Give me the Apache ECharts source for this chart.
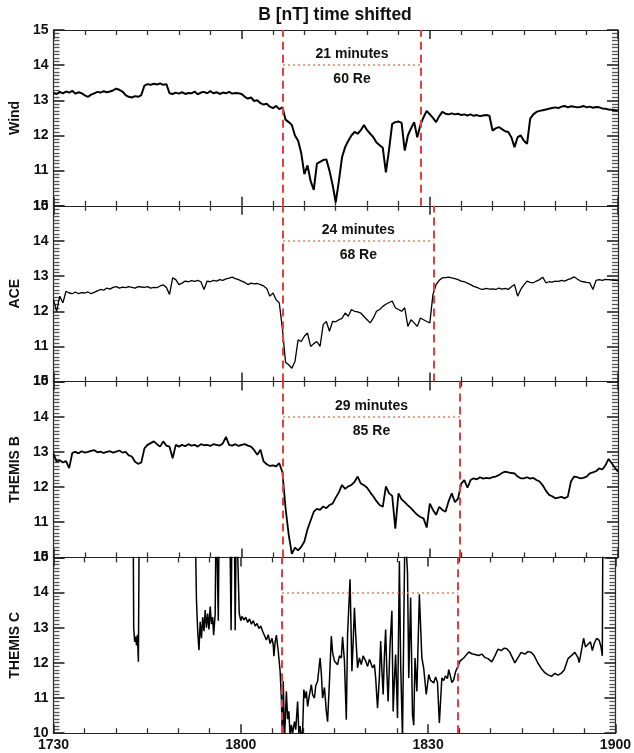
<!DOCTYPE html>
<html>
<head>
<meta charset="utf-8">
<title>B [nT] time shifted</title>
<script src="https://cdn.jsdelivr.net/npm/echarts@6/dist/echarts.min.js"></script>
<style>
  html, body { margin: 0; padding: 0; background: #fff; }
  #chart { width: 634px; height: 753px; }
</style>
</head>
<body>
<div id="chart"></div>
<script>
// time axis: minutes after 17:30, one sample every half minute for Wind / ACE / THEMIS B
var sampleStep = 0.5;

// B [nT], Wind
var windB = [
  13.21, 13.18, 13.24, 13.20, 13.25, 13.22, 13.27, 13.19, 13.23, 13.20,
  13.14, 13.10, 13.16, 13.20, 13.24, 13.22, 13.26, 13.23, 13.25, 13.28,
  13.33, 13.30, 13.25, 13.15, 13.10, 13.08, 13.12, 13.10, 13.15, 13.42,
  13.46, 13.44, 13.47, 13.45, 13.48, 13.44, 13.46, 13.20, 13.18, 13.22,
  13.19, 13.23, 13.18, 13.21, 13.20, 13.25, 13.17, 13.22, 13.24, 13.20,
  13.26, 13.20, 13.23, 13.18, 13.22, 13.20, 13.24, 13.19, 13.21, 13.20,
  13.18, 13.10, 13.05, 13.08, 12.98, 13.00, 12.92, 12.88, 12.90, 12.82,
  12.78, 12.84, 12.75, 12.80, 12.45, 12.38, 12.30, 12.00, 11.85, 11.50,
  10.90, 11.15, 10.70, 10.45, 11.20, 11.25, 11.30, 11.32, 11.00, 10.60,
  10.10, 10.70, 11.38, 11.67, 11.85, 12.00, 12.10, 12.05, 12.15, 12.30,
  12.15, 12.05, 11.95, 11.80, 11.72, 11.65, 10.95, 11.60, 12.33, 12.38,
  12.40, 12.36, 11.57, 12.00, 12.20, 12.38, 11.95, 12.30, 12.52, 12.70,
  12.60, 12.50, 12.38, 12.55, 12.67, 12.62, 12.60, 12.63, 12.60, 12.62,
  12.58, 12.60, 12.57, 12.60, 12.56, 12.58, 12.55, 12.57, 12.58, 12.56,
  12.14, 12.20, 12.24, 12.18, 12.12, 12.10, 11.95, 11.67, 11.95, 12.00,
  11.85, 11.76, 12.48, 12.60, 12.67, 12.70, 12.72, 12.74, 12.76, 12.78,
  12.80, 12.78, 12.82, 12.84, 12.80, 12.83, 12.82, 12.80, 12.81, 12.84,
  12.80, 12.82, 12.79, 12.81, 12.80, 12.77, 12.76, 12.74, 12.73, 12.72,
  12.71
];

// B [nT], ACE
var aceB = [
  12.33, 12.00, 12.43, 12.24, 12.57, 12.52, 12.50, 12.55, 12.50, 12.53,
  12.52, 12.55, 12.50, 12.54, 12.58, 12.62, 12.60, 12.66, 12.63, 12.68,
  12.70, 12.66, 12.69, 12.67, 12.70, 12.68, 12.66, 12.70, 12.69, 12.68,
  12.70, 12.66, 12.68, 12.67, 12.72, 12.75, 12.68, 12.48, 12.95, 12.90,
  12.76, 12.80, 12.86, 12.84, 12.87, 12.85, 12.88, 12.84, 12.62, 12.86,
  12.84, 12.88, 12.86, 12.90, 12.88, 12.92, 12.94, 12.97, 12.93, 12.90,
  12.86, 12.82, 12.76, 12.80, 12.78, 12.79, 12.76, 12.72, 12.65, 12.43,
  12.52, 12.33, 12.24, 11.50, 10.55, 10.48, 10.38, 10.57, 11.19, 11.14,
  11.29, 11.38, 11.00, 11.08, 11.14, 11.00, 11.62, 11.71, 11.43, 11.71,
  11.70, 11.76, 11.80, 11.95, 11.86, 12.05, 12.00, 11.98, 11.95, 11.85,
  11.76, 11.67, 11.81, 12.00, 12.05, 12.14, 12.20, 12.25, 12.29, 12.10,
  12.05, 12.00, 12.10, 11.57, 11.76, 11.67, 11.57, 11.81, 11.76, 11.71,
  11.67, 12.48, 12.76, 12.88, 12.95, 12.96, 12.97, 12.95, 12.93, 12.90,
  12.86, 12.84, 12.80, 12.76, 12.71, 12.68, 12.64, 12.62, 12.65, 12.63,
  12.64, 12.62, 12.66, 12.63, 12.65, 12.62, 12.70, 12.76, 12.43, 12.62,
  12.75, 12.86, 12.82, 12.81, 12.86, 12.90, 12.97, 12.81, 12.84, 12.83,
  12.86, 12.85, 12.88, 12.86, 12.90, 12.93, 12.98, 12.92, 12.86, 12.84,
  12.82, 12.81, 12.62, 12.88, 12.90, 12.88, 12.91, 12.90, 12.89, 12.88,
  12.87
];

// B [nT], THEMIS B
var themisBB = [
  12.95, 12.72, 12.76, 12.70, 12.74, 12.54, 12.97, 13.00, 12.96, 13.02,
  12.98, 13.00, 13.03, 13.05, 12.99, 13.01, 12.97, 13.00, 13.02, 12.98,
  13.01, 13.04, 12.98, 13.00, 12.90, 12.87, 12.72, 12.66, 12.70, 13.10,
  13.20, 13.25, 13.30, 13.22, 13.15, 13.30, 13.18, 13.15, 12.82, 13.20,
  13.15, 13.20, 13.16, 13.22, 13.18, 13.20, 13.15, 13.22, 13.19, 13.20,
  13.17, 13.22, 13.20, 13.18, 13.24, 13.43, 13.20, 13.18, 13.22, 13.17,
  13.20, 13.22, 13.18, 13.15, 13.05, 12.92, 13.06, 12.73, 12.65, 12.60,
  12.62, 12.59, 12.68, 12.42, 11.40, 10.65, 10.10, 10.28, 10.20, 10.30,
  10.45, 10.80, 11.05, 11.30, 11.38, 11.35, 11.45, 11.40, 11.49, 11.53,
  11.70, 11.85, 12.06, 11.95, 12.02, 12.06, 12.15, 12.30, 12.10, 12.05,
  11.98, 11.85, 11.73, 11.60, 11.49, 11.44, 12.02, 11.82, 11.75, 10.82,
  11.82, 11.65, 11.57, 11.48, 11.40, 11.30, 11.21, 11.15, 11.11, 10.85,
  11.53, 11.35, 11.21, 11.44, 11.35, 11.30, 11.60, 11.82, 11.57, 11.67,
  12.10, 12.20, 11.98, 12.20, 12.25, 12.22, 12.28, 12.24, 12.26, 12.25,
  12.28, 12.30, 12.34, 12.40, 12.44, 12.42, 12.40, 12.39, 12.30, 12.25,
  12.25, 12.28, 12.24, 12.26, 12.20, 12.16, 12.05, 11.90, 11.78, 11.74,
  11.68, 11.70, 11.72, 11.68, 11.73, 12.16, 12.30, 12.28, 12.25, 12.26,
  12.30, 12.39, 12.42, 12.45, 12.53, 12.50, 12.62, 12.80, 12.68, 12.55,
  12.44
];

// THEMIS C: [minutes after 17:30, B nT]; values above 15 are off scale
var themisC = [
  [0, 16.5], [12.75, 16.5], [12.85, 13.0], [13.0, 12.6], [13.15, 12.75], [13.3, 12.5], [13.45, 12.8], [13.6, 12.03], [13.75, 16.5],
  [22.65, 16.5], [22.9, 13.79], [23.1, 12.9], [23.3, 12.36], [23.5, 13.17], [23.7, 12.7], [23.9, 13.3], [24.1, 12.9], [24.3, 13.5],
  [24.5, 13.0], [24.7, 13.4], [24.9, 12.95], [25.1, 13.6], [25.3, 13.1], [25.5, 13.3], [25.65, 12.79], [25.9, 13.4], [26.05, 16.5],
  [26.25, 16.5], [26.4, 13.2], [26.55, 16.5],
  [28.2, 16.5], [28.45, 12.93], [28.6, 16.5], [28.95, 16.5], [29.1, 12.93], [29.3, 16.5], [29.5, 16.5], [29.75, 13.41],
  [30.0, 13.2], [30.2, 13.32], [30.5, 13.22], [30.8, 13.3], [31.1, 13.15], [31.4, 13.25], [31.7, 13.1], [32.0, 13.2], [32.3, 13.05],
  [32.6, 13.12], [32.9, 12.98], [33.2, 13.05], [33.5, 12.9], [33.8, 12.95], [34.1, 12.65], [34.4, 12.8], [34.7, 12.55], [35.0, 12.7],
  [35.2, 12.5], [35.3, 12.19], [35.5, 12.6], [35.7, 12.79], [36.0, 12.33], [36.3, 11.76],
  [36.5, 11.0], [36.65, 9.85], [36.8, 11.48], [37.0, 9.8], [37.3, 11.19], [37.5, 10.4], [37.7, 10.62], [37.9, 9.9], [38.1, 10.24],
  [38.3, 10.0], [38.6, 10.33], [38.8, 10.1], [39.1, 10.9], [39.3, 10.0], [39.5, 10.2], [39.7, 9.9], [39.9, 10.05],
  [40.1, 11.24], [40.3, 11.0], [40.5, 11.19], [40.7, 10.76], [41.0, 11.1], [41.3, 11.38], [41.5, 11.1], [41.8, 11.0], [42.0, 11.35],
  [42.3, 11.48], [42.7, 12.14], [42.9, 11.7], [43.1, 11.0], [43.4, 11.3], [43.7, 10.62], [43.9, 10.33], [44.2, 11.48], [44.5, 12.76],
  [44.7, 12.3], [45.0, 12.05], [45.3, 12.09], [45.5, 11.95], [45.8, 12.2], [46.1, 12.14], [46.3, 12.74], [46.6, 12.05], [46.9, 10.38],
  [47.1, 12.81], [47.5, 14.38], [47.8, 11.76], [48.0, 12.6], [48.2, 13.57], [48.4, 12.81], [48.7, 11.86], [49.0, 12.14], [49.3, 11.95],
  [49.6, 12.2], [50.0, 12.05], [50.3, 11.9], [50.6, 12.1], [51.1, 11.86], [51.4, 11.95], [51.6, 11.57], [51.9, 10.71], [52.2, 11.6],
  [52.4, 12.62], [52.6, 11.8], [52.8, 11.1], [53.0, 12.2], [53.2, 12.95], [53.4, 11.7], [53.6, 10.9], [53.9, 12.5], [54.2, 13.48],
  [54.4, 10.62], [54.6, 11.5], [54.8, 12.24], [55.1, 10.43], [55.4, 14.9], [55.6, 12.0], [55.9, 9.85], [56.1, 13.0], [56.3, 16.0],
  [56.5, 15.2], [56.7, 14.57], [56.9, 11.57], [57.2, 13.86], [57.5, 10.52], [57.7, 10.23], [57.9, 12.14], [58.2, 11.19], [58.6, 13.95],
  [59.0, 12.14], [59.3, 11.84], [59.7, 11.1], [60.1, 11.67], [60.4, 11.5], [60.9, 11.43], [61.2, 11.6], [61.5, 11.45], [61.8, 10.29],
  [62.2, 11.57], [62.5, 11.5], [62.8, 11.63], [63.1, 11.55], [63.3, 11.81], [63.6, 11.6], [63.8, 11.44], [64.1, 11.52], [64.4, 11.75],
  [64.8, 11.91], [65.1, 12.05], [65.4, 12.0], [65.7, 12.14], [66.0, 12.2], [66.5, 12.31], [67.0, 12.26], [67.5, 12.24], [68.1, 12.21],
  [68.6, 12.25], [69.1, 12.15], [69.6, 12.12], [70.2, 12.03], [70.7, 12.2], [71.2, 12.39], [71.7, 12.35], [72.2, 12.42], [72.6, 12.4],
  [73.1, 12.3], [73.5, 12.15], [73.9, 12.0], [74.4, 12.15], [74.9, 12.3], [75.5, 12.25], [76.0, 12.32], [76.5, 12.3], [77.0, 12.2],
  [77.6, 11.99], [78.1, 11.85], [78.7, 11.72], [79.2, 11.66], [79.8, 11.62], [80.3, 11.7], [80.8, 11.65], [81.3, 11.7], [81.8, 11.8],
  [82.4, 12.12], [82.9, 12.2], [83.5, 12.3], [84.0, 12.15], [84.2, 12.01], [84.5, 12.3], [84.9, 12.7], [85.2, 12.45], [85.5, 12.5],
  [86.0, 12.6], [86.3, 12.35], [86.6, 12.55], [87.0, 12.7], [87.4, 12.64], [87.7, 12.45], [87.9, 12.2], [88.0, 16.5]
];

var panelNames = ['Wind', 'ACE', 'THEMIS B', 'THEMIS C'];
var tickLabels = ['1730', '1800', '1830', '1900'];
// discontinuity at the spacecraft and at the bow shock (minutes after 17:30)
var jumpStart = 36.6;
var jumpEnd = [58.6, 60.6, 64.8, 64.8];
var delayText = ['21 minutes', '24 minutes', '29 minutes', ''];
var distanceText = ['60 Re', '68 Re', '85 Re', ''];

function onGrid(values) {
  return values.map(function (v, i) { return [i * sampleStep, v]; });
}
var panelData = [onGrid(windB), onGrid(aceB), onGrid(themisBB), themisC];
var lineWidths = [2, 1.3, 1.8, 1.5];

var fontFamily = '"Liberation Sans", Arial, Helvetica, sans-serif';
var gridTop = 30, gridHeight = 175.8;

function makeX(i, pos, showLabels) {
  return {
    type: 'value', gridIndex: i, position: pos,
    min: 0, max: 90, interval: 30,
    axisLine: { show: true, onZero: false, lineStyle: { color: '#222', width: 1.2 } },
    axisTick: { show: true, inside: true, length: 9, lineStyle: { color: '#222', width: 1.5 } },
    minorTick: { show: true, splitNumber: 6, length: 5, lineStyle: { color: '#333', width: 1.3 } },
    axisLabel: {
      show: showLabels, margin: 5, fontSize: 14, fontWeight: 'bold', color: '#111', fontFamily: fontFamily,
      showMinLabel: true, showMaxLabel: true,
      formatter: function (v) { return tickLabels[Math.round(v / 30)]; }
    },
    splitLine: { show: false }
  };
}

function makeY(i, pos, name) {
  return {
    type: 'value', gridIndex: i, position: pos,
    min: 10, max: 15, interval: 1,
    name: name, nameLocation: 'middle', nameGap: 29, nameRotate: 90,
    nameTextStyle: { fontSize: 14, fontWeight: 'bold', color: '#111', fontFamily: fontFamily },
    axisLine: { show: true, onZero: false, lineStyle: { color: '#222', width: 1.2 } },
    axisTick: { show: true, inside: true, length: 11, lineStyle: { color: '#222', width: 1.6 } },
    minorTick: { show: true, splitNumber: 10, length: 6, lineStyle: { color: '#555', width: 1.3 } },
    axisLabel: {
      show: pos === 'left', margin: 5, fontSize: 14, fontWeight: 'bold', color: '#111', fontFamily: fontFamily,
      showMinLabel: true, showMaxLabel: true
    },
    splitLine: { show: false }
  };
}

var grids = [], xAxes = [], yAxes = [], series = [];
var dashedRed = { color: '#e53e3e', width: 2, type: [8, 5] };
var dottedOrange = { color: '#ef7a55', width: 1.5, type: [2, 3] };

panelData.forEach(function (data, i) {
  grids.push({ left: 52, right: 16, top: gridTop + i * gridHeight, height: gridHeight });
  xAxes.push(makeX(i, 'bottom', i === 3));
  xAxes.push(makeX(i, 'top', false));
  yAxes.push(makeY(i, 'left', panelNames[i]));
  yAxes.push(makeY(i, 'right', ''));

  var mid = (jumpStart + jumpEnd[i]) / 2;
  var labels = [];
  if (delayText[i]) {
    labels.push({ coord: [mid, 14], label: { formatter: delayText[i], offset: [0, -11] } });
    labels.push({ coord: [mid, 14], label: { formatter: distanceText[i], offset: [0, 14] } });
  }

  series.push({
    name: panelNames[i], type: 'line',
    xAxisIndex: 2 * i, yAxisIndex: 2 * i,
    data: data, symbol: 'none', showSymbol: false, clip: true,
    lineStyle: { color: '#000', width: lineWidths[i] },
    markLine: {
      silent: true, symbol: ['none', 'none'], animation: false,
      label: { show: false },
      data: [
        { xAxis: jumpStart, lineStyle: dashedRed },
        { xAxis: jumpEnd[i], lineStyle: dashedRed },
        [{ coord: [jumpStart, 14], lineStyle: dottedOrange }, { coord: [jumpEnd[i], 14] }]
      ]
    },
    markPoint: {
      silent: true, symbol: 'circle', symbolSize: 0, animation: false,
      label: { show: true, position: 'inside', fontSize: 14, fontWeight: 'bold', color: '#111', fontFamily: fontFamily },
      data: labels
    }
  });
});

var chart = echarts.init(document.getElementById('chart'));
chart.setOption({
  animation: false,
  backgroundColor: '#fff',
  graphic: [{
    type: 'text', x: 335, y: 15,
    style: {
      text: 'B [nT] time shifted', fill: '#111', fontSize: 17.5, fontWeight: 'bold', fontFamily: fontFamily,
      align: 'center', verticalAlign: 'middle'
    }
  }],
  grid: grids,
  xAxis: xAxes,
  yAxis: yAxes,
  series: series
});
</script>
</body>
</html>
